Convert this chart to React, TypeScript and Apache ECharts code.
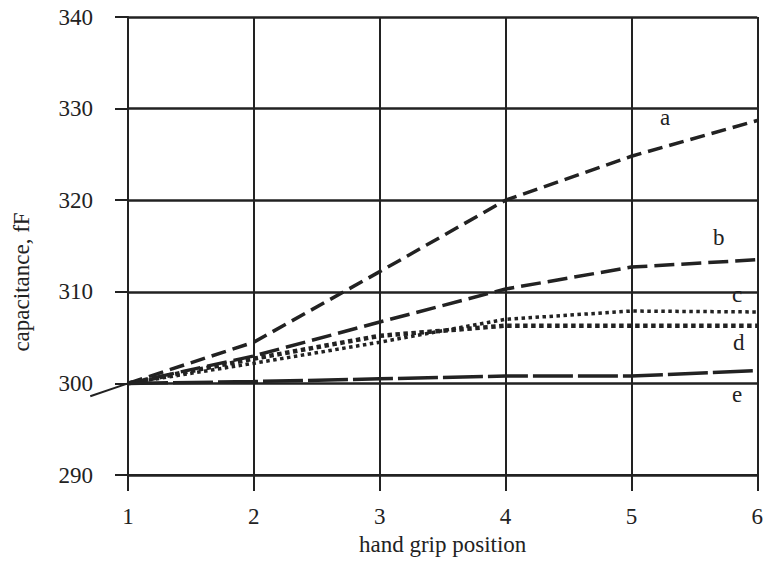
import React, { useEffect, useRef } from "react";
import * as echarts from "echarts";

const positions = [1, 2, 3, 4, 5, 6];
const seriesA = [300, 304.5, 312.2, 320.0, 324.8, 328.7];
const seriesB = [300, 303.0, 306.7, 310.3, 312.7, 313.5];
const seriesC = [300, 302.2, 304.5, 307.0, 307.9, 307.8];
const seriesD = [300, 302.7, 305.2, 306.3, 306.3, 306.3];
const seriesE = [300, 300.2, 300.5, 300.8, 300.8, 301.4];
const leadX = [0.7, 1];
const leadY = [298.6, 300];
const curveLabels = ["a", "b", "c", "d", "e"];

const FONT = "'Liberation Serif', 'Times New Roman', serif";
const INK = "#222";

function pairs(xs: number[], ys: number[]) {
  return xs.map((x, i) => [x, ys[i]]);
}

export default function App() {
  const ref = useRef<HTMLDivElement>(null);
  useEffect(() => {
    if (!ref.current) return;
    document.body.style.margin = "0";
    document.body.style.overflow = "hidden";
    const chart = echarts.init(ref.current, undefined, { renderer: "svg" });
    const mk = (name: string, ys: number[], type: any, width: number) => ({
      name,
      type: "line",
      data: pairs(positions, ys),
      showSymbol: false,
      symbol: "none",
      lineStyle: { color: INK, width, type },
      z: 5,
    });
    const labelPos = [
      [660, 117],
      [713, 237],
      [732, 294],
      [733, 342],
      [732, 394],
    ];
    const textStyle = (t: string) => ({
      text: t,
      font: `23px ${FONT}`,
      fill: INK,
      textAlign: "left",
      textVerticalAlign: "middle",
    });
    chart.setOption({
      animation: false,
      backgroundColor: "#fff",
      grid: { left: 128, right: 4, top: 17, bottom: 84, containLabel: false },
      xAxis: {
        type: "value",
        min: 1,
        max: 6,
        interval: 1,
        name: "hand grip position",
        nameLocation: "middle",
        nameGap: 58,
        nameTextStyle: { fontFamily: FONT, fontSize: 23, color: INK },
        axisLine: { show: true, lineStyle: { color: INK, width: 2 } },
        axisTick: { show: true, length: 16, lineStyle: { color: INK, width: 2 } },
        axisLabel: { margin: 30, fontFamily: FONT, fontSize: 23, color: INK },
        splitLine: { show: true, lineStyle: { color: INK, width: 2 } },
      },
      yAxis: {
        type: "value",
        min: 290,
        max: 340,
        interval: 10,
        axisLine: { show: true, lineStyle: { color: INK, width: 2 } },
        axisTick: { show: true, length: 13, lineStyle: { color: INK, width: 2 } },
        axisLabel: { margin: 35, fontFamily: FONT, fontSize: 23, color: INK },
        splitLine: { show: true, lineStyle: { color: INK, width: 2.5 } },
      },
      series: [
        mk("a", seriesA, [15, 7], 3.5),
        mk("b", seriesB, [20, 7], 3.5),
        mk("c", seriesC, [3.5, 3.5], 3.5),
        mk("d", seriesD, [4.5, 3.5], 4.5),
        mk("e", seriesE, [40, 5], 3.5),
      ],
    });
    const p0 = chart.convertToPixel({ gridIndex: 0 }, [leadX[0], leadY[0]]) as number[];
    const p1 = chart.convertToPixel({ gridIndex: 0 }, [leadX[1], leadY[1]]) as number[];
    chart.setOption({
      graphic: [
        {
          type: "text",
          x: 21,
          y: 282,
          rotation: Math.PI / 2,
          style: { ...textStyle("capacitance, fF"), textAlign: "center" },
        },
        ...curveLabels.map((t, i) => ({
          type: "text",
          x: labelPos[i][0],
          y: labelPos[i][1],
          z: 10,
          style: textStyle(t),
        })),
        {
          type: "line",
          z: 10,
          shape: { x1: p0[0], y1: p0[1], x2: p1[0], y2: p1[1] },
          style: { stroke: INK, lineWidth: 2 },
        },
      ],
    });
    return () => chart.dispose();
  }, []);
  return (
    <div
      ref={ref}
      style={{ position: "fixed", left: 0, top: 0, width: 766, height: 561 }}
    />
  );
}
